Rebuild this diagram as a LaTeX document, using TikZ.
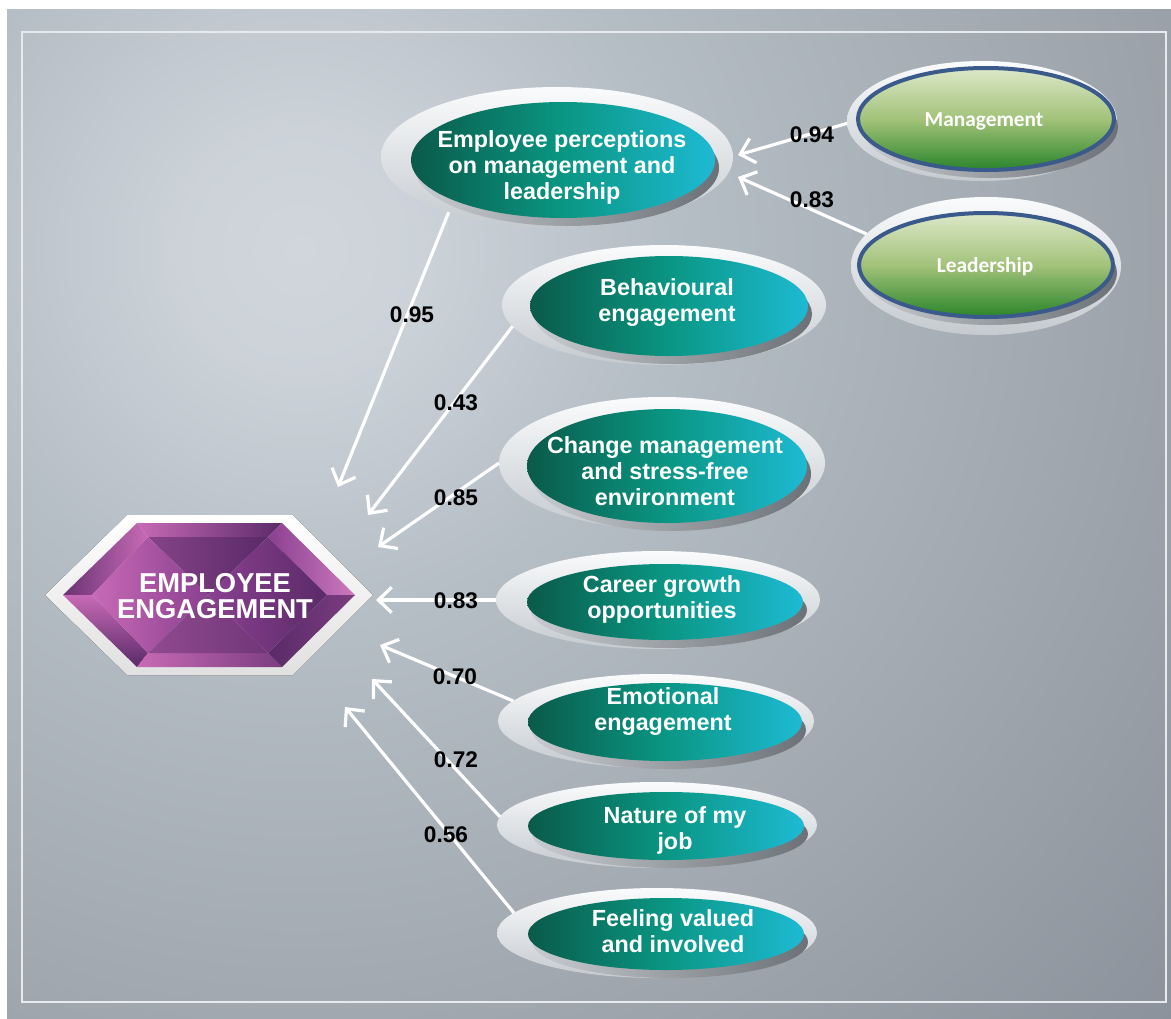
\documentclass[tikz,border=0pt]{standalone}
\usepackage{fontspec}
\setmainfont{Liberation Sans}
\newfontfamily\calib{Carlito}
\usetikzlibrary{shapes.geometric,arrows.meta,calc}
\definecolor{bglight}{HTML}{D0D6DC}
\definecolor{bgmid}{HTML}{B5BDC5}
\definecolor{bgdarkA}{HTML}{9DA4AC}
\definecolor{bgdarkB}{HTML}{8B929B}
\definecolor{framecol}{HTML}{E6EAEE}
\definecolor{ringtop}{HTML}{FAFBFC}
\definecolor{ringbot}{HTML}{C5CACF}
\definecolor{shadowL}{HTML}{C8CCD0}
\definecolor{shadowR}{HTML}{6C7177}
\definecolor{tealA}{HTML}{0A5A49}
\definecolor{tealB}{HTML}{0A9683}
\definecolor{tealC}{HTML}{1DBAD3}
\definecolor{greenA}{HTML}{DCE8C8}
\definecolor{greenB}{HTML}{A3C27A}
\definecolor{greenC}{HTML}{2A852A}
\definecolor{blueB}{HTML}{3A5A8C}
\definecolor{pinkA}{HTML}{C86AB6}
\definecolor{purpD}{HTML}{5A2A68}
\definecolor{purpM}{HTML}{8A4090}
\pgfdeclareradialshading{bgshade}{\pgfpoint{0bp}{0bp}}{color(0bp)=(bglight); color(2.5bp)=(bglight!85!bgmid); color(8bp)=(bgmid); color(18bp)=(bgdarkA); color(25bp)=(bgdarkB); color(50bp)=(bgdarkB)}
\tikzset{
  ringsty/.style 2 args={ellipse, minimum width=#1*1.5pt, minimum height=#2*1.5pt, inner sep=0pt, outer sep=0pt, top color=ringtop, bottom color=ringbot},
  shadowsty/.style 2 args={ellipse, minimum width=#1*1.5pt, minimum height=#2*1.5pt, inner sep=0pt, outer sep=0pt, left color=shadowL, right color=shadowR},
  tealsty/.style 2 args={ellipse, minimum width=#1*1.5pt, minimum height=#2*1.5pt, inner sep=0pt, outer sep=0pt, left color=tealA, right color=tealC, middle color=tealB},
  greensty/.style 2 args={ellipse, minimum width=#1*1.5pt, minimum height=#2*1.5pt, inner sep=0pt, outer sep=0pt, top color=greenA, bottom color=greenC, middle color=greenB, draw=blueB, line width=3pt},
  ptext/.style={text=white, font=\bfseries\fontsize{17.5pt}{19.5pt}\selectfont, align=center, inner sep=0pt},
  gtext/.style={text=white, font=\calib\bfseries\fontsize{16pt}{18pt}\selectfont, inner sep=0pt},
  numlab/.style={text=black, font=\bfseries\fontsize{17pt}{18pt}\selectfont, inner sep=0pt},
  conn/.style={draw=white, line width=2.4pt, -{Straight Barb[length=10pt,width=19pt]}}
}
\newcommand\tealpill[9]{%
  \node[ringsty={#4}{#5}] (#1) at (#2,#3) {};
  \node[shadowsty={#8}{#9}] (#1-sh) at ([shift={(4,8)}]#6,#7) {};
  \node[tealsty={#8}{#9}] (#1-in) at (#6,#7) {};
}
\newcommand\greenpill[9]{%
  \node[ringsty={#4}{#5}] (#1) at (#2,#3) {};
  \node[shadowsty={#8}{#9}] (#1-sh) at ([shift={(4,8)}]#6,#7) {};
  \node[greensty={#8}{#9}] (#1-in) at (#6,#7) {};
}
\begin{document}
\begin{tikzpicture}[x=0.75pt,y=-0.75pt]
\useasboundingbox (0,0) rectangle (1171,1018);
\fill[white] (0,0) rectangle (1171,1018);
\begin{scope}
\clip (7,9) rectangle (1171,1018);
\shade[shading=bgshade] (300,250) circle[radius=1165];
\end{scope}
\draw[framecol, line width=1.2pt] (22,32) rectangle (1166,1002);

% gem
\fill[top color=white, bottom color=black!12] (45,595) -- (127,515) -- (293,515) -- (373,595) -- (293,675) -- (127,675) -- cycle;
\coordinate (OL) at (63,595); \coordinate (OTL) at (137,523); \coordinate (OTR) at (282,523);
\coordinate (OR) at (355,595); \coordinate (OBR) at (282,667); \coordinate (OBL) at (137,667);
\coordinate (IL) at (92,595); \coordinate (ITL) at (148,537); \coordinate (ITR) at (268,537);
\coordinate (IR) at (327,595); \coordinate (IBR) at (268,653); \coordinate (IBL) at (148,653);
\coordinate (IC) at (208,595);
\shade[left color=pinkA, right color=purpD] (OTL) -- (OTR) -- (ITR) -- (ITL) -- cycle;
\shade[left color=purpD!85!pinkA, right color=pinkA] (OL) -- (OTL) -- (ITL) -- (IL) -- cycle;
\shade[top color=pinkA, bottom color=purpD] (OL) -- (IL) -- (IBL) -- (OBL) -- cycle;
\shade[left color=pinkA, right color=purpD!70!pinkA] (IBL) -- (IBR) -- (OBR) -- (OBL) -- cycle;
\shade[left color=purpM, right color=pinkA!90!white] (ITR) -- (OTR) -- (OR) -- (IR) -- cycle;
\shade[left color=purpD, right color=purpD!70!pinkA] (IR) -- (OR) -- (OBR) -- (IBR) -- cycle;
\shade[left color=purpD!60!pinkA, right color=purpD] (ITL) -- (ITR) -- (IC) -- cycle;
\shade[left color=pinkA, right color=purpM] (ITL) -- (IL) -- (IBL) -- (IC) -- cycle;
\shade[left color=purpM, right color=purpD] (ITR) -- (IR) -- (IBR) -- (IC) -- cycle;
\shade[left color=purpD!50!pinkA, right color=purpD!80!pinkA] (IBL) -- (IBR) -- (IC) -- cycle;
\node[text=white, font=\bfseries\fontsize{20.5pt}{20pt}\selectfont, align=center, inner sep=0pt] (ee) at (215,596) {EMPLOYEE\\ENGAGEMENT};

% pills
\tealpill{perc}{557}{157}{176}{70}{563}{160}{152}{58}
\tealpill{behav}{664}{305}{162}{60}{669}{306}{139}{50}
\tealpill{chg}{662}{463}{163}{66}{667}{466}{140}{57}
\tealpill{car}{658}{600}{162}{49}{665}{602}{138}{38}
\tealpill{emo}{656}{721}{158}{47}{665}{722}{137}{39}
\tealpill{nat}{657}{825}{160}{43}{666}{826}{138}{34}
\tealpill{feel}{657}{933}{160}{45}{666}{934}{138}{36}
\greenpill{mgmt}{982}{121}{135}{60}{986}{119}{128}{51}
\greenpill{lead}{986}{266}{135}{69}{986}{265}{127}{52}

\node[ptext] (perc-t) at (562,167) {Employee perceptions\\on management and\\leadership};
\node[ptext] (behav-t) at (667,303) {Behavioural\\engagement};
\node[ptext] (chg-t) at (665,471) {Change management\\and stress-free\\environment};
\node[ptext] (car-t) at (662,599) {Career growth\\opportunities};
\node[ptext] (emo-t) at (663,712) {Emotional\\engagement};
\node[ptext] (nat-t) at (675,830) {Nature of my\\job};
\node[ptext] (feel-t) at (673,931) {Feeling valued\\and involved};
\node[gtext] (mgmt-t) at (984,121) {Management};
\node[gtext] (lead-t) at (985,267) {Leadership};

% arrow tips
\coordinate (t95) at (338,487);
\coordinate (t43) at (368,515);
\coordinate (t85) at (378,547);
\coordinate (t83) at (376,600);
\coordinate (t70) at (380,645);
\coordinate (t72) at (372,679);
\coordinate (t56) at (345,707);
\coordinate (t94) at (738,155);
\coordinate (t83b) at (738,177);

\draw[conn] (perc.207) -- (t95);
\draw[conn] (behav.188) -- (t43);
\draw[conn] (chg.180) -- (t85);
\draw[conn] (car.180) -- (t83);
\draw[conn] (emo.172) -- (t70);
\draw[conn] (nat.177) -- (t72);
\draw[conn] (feel.172) -- (t56);
\draw[conn] (mgmt.181) -- (t94);
\draw[conn] (lead.165) -- (t83b);

\node[numlab] (l95) at (412,315) {0.95};
\node[numlab] (l43) at (456,403) {0.43};
\node[numlab] (l85) at (456,498) {0.85};
\node[numlab] (l83) at (456,601) {0.83};
\node[numlab] (l70) at (455,677) {0.70};
\node[numlab] (l72) at (456,760) {0.72};
\node[numlab] (l56) at (446,835) {0.56};
\node[numlab] (l94) at (812,135) {0.94};
\node[numlab] (l83b) at (812,200) {0.83};
\end{tikzpicture}
\end{document}
